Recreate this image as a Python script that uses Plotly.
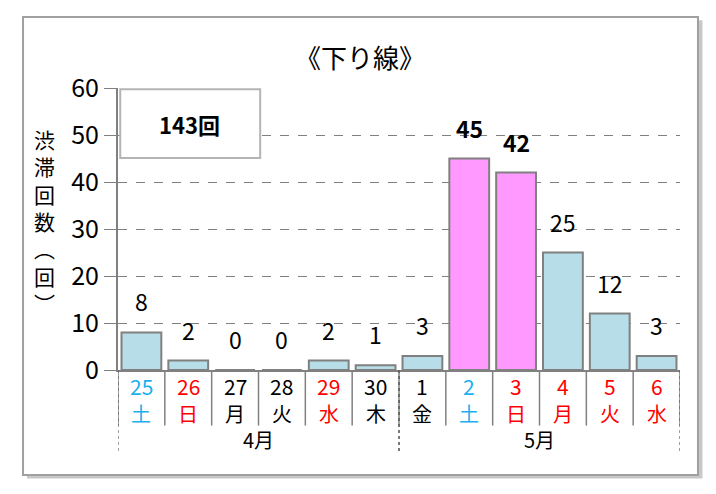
import plotly.graph_objects as go

# daily counts (down line)
days = ["25", "26", "27", "28", "29", "30", "1", "2", "3", "4", "5", "6"]
weekdays = ["土", "日", "月", "火", "水", "木", "金", "土", "日", "月", "火", "水"]
counts = [8, 2, 0, 0, 2, 1, 3, 45, 42, 25, 12, 3]
day_colors = ["#1AB0EE", "#FF0000", "#000000", "#000000", "#FF0000", "#000000",
              "#000000", "#1AB0EE", "#FF0000", "#FF0000", "#FF0000", "#FF0000"]
bar_colors = ["#B7DDE8"] * 7 + ["#FF99FF", "#FF99FF"] + ["#B7DDE8"] * 3
bold_labels = [False] * 7 + [True, True] + [False] * 3
months = ["4月", "5月"]
month_spans = [(0, 5), (6, 11)]
total_label = "143回"

font = "Noto Sans CJK JP"
xs = list(range(len(days)))

fig = go.Figure()

# frame shadow + frame
fig.add_shape(type="rect", xref="paper", yref="paper",
              x0=-0.162, x1=1.040, y0=-0.385, y1=1.240,
              line=dict(width=0), fillcolor="#C8C8C8", layer="below")
fig.add_shape(type="rect", xref="paper", yref="paper",
              x0=-0.169, x1=1.032, y0=-0.372, y1=1.252,
              line=dict(color="#A0A0A0", width=2), fillcolor="white", layer="below")

fig.add_trace(go.Bar(
    x=xs, y=counts, width=0.85,
    marker=dict(color=bar_colors, line=dict(color="#808080", width=2)),
    hoverinfo="skip",
))

# value labels
for x, v, b in zip(xs, counts, bold_labels):
    txt = f"<b>{v}</b>" if b else str(v)
    fig.add_annotation(x=x, y=v, text=txt, showarrow=False, yshift=31,
                       xanchor="center", yanchor="middle",
                       font=dict(size=23, color="black", family=font))

# category labels
for x, d, w, c in zip(xs, days, weekdays, day_colors):
    fig.add_annotation(x=x, y=-0.055, yref="paper", text=d, showarrow=False,
                       xanchor="center", yanchor="middle",
                       font=dict(size=21, color=c, family=font))
    fig.add_annotation(x=x, y=-0.155, yref="paper", text=w, showarrow=False,
                       xanchor="center", yanchor="middle",
                       font=dict(size=20, color=c, family=font))

# divider lines between days
for k in range(len(days) + 1):
    fig.add_shape(type="line", xref="x", yref="paper",
                  x0=k - 0.5, x1=k - 0.5, y0=0, y1=-0.197,
                  line=dict(color="#808080", width=1.5))

# month labels and dividers
for m, (a, b) in zip(months, month_spans):
    fig.add_annotation(x=(a + b) / 2, y=-0.245, yref="paper", text=m, showarrow=False,
                       xanchor="center", yanchor="middle",
                       font=dict(size=20, color="black", family=font))
    for edge in (a - 0.5, b + 0.5):
        fig.add_shape(type="line", xref="x", yref="paper",
                      x0=edge, x1=edge, y0=0, y1=-0.29,
                      line=dict(color="#606060", width=1.2, dash="dot"))

# total box
fig.add_shape(type="rect", xref="paper", yref="paper",
              x0=0.004, x1=0.253, y0=0.752, y1=0.996,
              line=dict(color="#B4B4B4", width=2), fillcolor="white")
fig.add_annotation(x=0.128, y=0.874, xref="paper", yref="paper", text=f"<b>{total_label}</b>",
                   showarrow=False, xanchor="center", yanchor="middle",
                   font=dict(size=22, color="black", family=font))

# y-axis title (vertical text)
fig.add_annotation(x=-0.13, y=0.53, xref="paper", yref="paper",
                   text="渋<br>滞<br>回<br>数<br>︵<br>回<br>︶", showarrow=False,
                   xanchor="center", yanchor="middle",
                   font=dict(size=21, color="black", family=font))

# title
fig.add_annotation(x=0.43, y=1.11, xref="paper", yref="paper", text="《下り線》",
                   showarrow=False, xanchor="center", yanchor="middle",
                   font=dict(size=26, color="black", family=font))

fig.update_layout(
    width=716, height=494,
    margin=dict(l=110, r=44, t=80, b=132),
    paper_bgcolor="white", plot_bgcolor="white",
    showlegend=False,
    xaxis=dict(range=[-0.5, 11.5], showticklabels=False, showgrid=False,
               zeroline=False, showline=True, linecolor="#808080", linewidth=2, ticks=""),
    yaxis=dict(range=[0, 60], tickvals=[0, 10, 20, 30, 40, 50, 60],
               showgrid=True, gridcolor="#808080", griddash="dash", gridwidth=1.2,
               zeroline=False, showline=True, linecolor="#808080", linewidth=2,
               ticks="outside", ticklen=12, tickcolor="#808080",
               tickfont=dict(size=25, color="black", family=font)),
)

fig.write_html("out.html")
